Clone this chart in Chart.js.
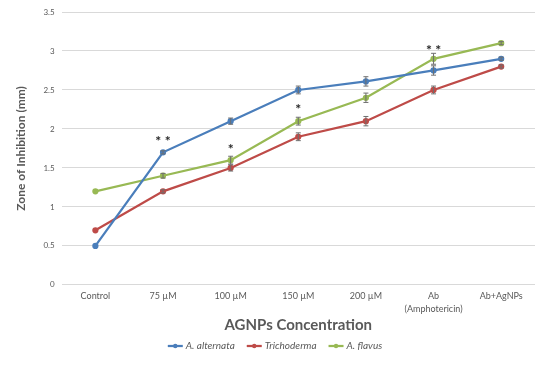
<!DOCTYPE html>
<html>
<head>
<meta charset="utf-8">
<script src="https://cdn.jsdelivr.net/npm/chart.js@4"></script>
<style>
  html, body { margin: 0; padding: 0; background: #fff; }
  #wrap { width: 550px; height: 365px; }
</style>
</head>
<body>
<div id="wrap"><canvas id="chart" width="550" height="365"></canvas></div>
<script>
// Data
const categories = ['Control', '75 µM', '100 µM', '150 µM', '200 µM', ['Ab', '(Amphotericin)'], 'Ab+AgNPs'];

const alternataValues = [0.5, 1.7, 2.1, 2.5, 2.61, 2.75, 2.9];
const trichodermaValues = [0.7, 1.2, 1.5, 1.9, 2.1, 2.5, 2.8];
const flavusValues = [1.2, 1.4, 1.6, 2.1, 2.4, 2.9, 3.1];

const alternataErrors = [0, 0.02, 0.04, 0.05, 0.06, 0.06, 0.02];
const trichodermaErrors = [0, 0.02, 0.04, 0.05, 0.06, 0.05, 0.02];
const flavusErrors = [0, 0.03, 0.05, 0.05, 0.06, 0.07, 0.02];

// significance marks above the lines
const starTexts = ['', '**', '*', '*', '', '**', ''];
const starLevels = [null, 1.88, 1.78, 2.29, null, 3.04, null];

const yTicks = [0, 0.5, 1, 1.5, 2, 2.5, 3, 3.5];

const colors = {
    blue: '#4a7ebb',
    red: '#be4b48',
    green: '#98b954',
    grid: '#d9d9d9',
    text: '#595959',
    errBar: '#6f6f6f'
};

const FONT = 'Lato, "Liberation Sans", sans-serif';

function makeSeries(label, values, errors, color) {
    return {
        label: label,
        data: values,
        errors: errors,
        borderColor: color,
        backgroundColor: color,
        borderWidth: 2.25,
        pointRadius: 2,
        pointHoverRadius: 3,
        pointBackgroundColor: color,
        pointBorderColor: color,
        tension: 0
    };
}

// Error bars drawn from each dataset's errors array
const errorBarPlugin = {
    id: 'errorBars',
    afterDatasetsDraw(chart) {
        const ctx = chart.ctx;
        const yScale = chart.scales.y;
        ctx.save();
        ctx.strokeStyle = colors.errBar;
        ctx.lineWidth = 1;
        chart.data.datasets.forEach((ds, i) => {
            const meta = chart.getDatasetMeta(i);
            meta.data.forEach((pt, j) => {
                const err = ds.errors[j];
                if (!err) return;
                const top = yScale.getPixelForValue(ds.data[j] + err);
                const bot = yScale.getPixelForValue(ds.data[j] - err);
                const x = pt.x;
                ctx.beginPath();
                ctx.moveTo(x, top); ctx.lineTo(x, bot);
                ctx.moveTo(x - 2.5, top); ctx.lineTo(x + 2.5, top);
                ctx.moveTo(x - 2.5, bot); ctx.lineTo(x + 2.5, bot);
                ctx.stroke();
            });
        });
        ctx.restore();
    }
};

// Asterisks placed at category / value positions
const starPlugin = {
    id: 'stars',
    afterDatasetsDraw(chart) {
        const ctx = chart.ctx;
        const xScale = chart.scales.x;
        const yScale = chart.scales.y;
        ctx.save();
        ctx.fillStyle = '#262626';
        ctx.font = 'bold 14px ' + FONT;
        ctx.textAlign = 'center';
        ctx.textBaseline = 'middle';
        starTexts.forEach((txt, i) => {
            if (!txt) return;
            const x = xScale.getPixelForValue(i);
            const y = yScale.getPixelForValue(starLevels[i]);
            ctx.fillText(txt.split('').join(' '), x, y + 3);
        });
        ctx.restore();
    }
};

// Legend: short line with a dot, italic label, centred on the canvas
const legendPlugin = {
    id: 'lineLegend',
    afterDraw(chart) {
        const ctx = chart.ctx;
        const y = 346;
        ctx.save();
        ctx.font = 'italic 10px ' + FONT;
        ctx.textBaseline = 'middle';
        const items = chart.data.datasets.map(ds => ({
            label: ds.label,
            color: ds.borderColor,
            w: ctx.measureText(ds.label).width
        }));
        const sym = 15, gapText = 3, gapItem = 12;
        let total = 0;
        items.forEach((it, k) => {
            total += sym + gapText + it.w + (k < items.length - 1 ? gapItem : 0);
        });
        let x = chart.width / 2 - total / 2;
        items.forEach(it => {
            ctx.strokeStyle = it.color;
            ctx.fillStyle = it.color;
            ctx.lineWidth = 2.25;
            ctx.beginPath();
            ctx.moveTo(x, y); ctx.lineTo(x + sym, y);
            ctx.stroke();
            ctx.beginPath();
            ctx.arc(x + sym / 2, y, 2.2, 0, Math.PI * 2);
            ctx.fill();
            ctx.fillStyle = colors.text;
            ctx.fillText(it.label, x + sym + gapText, y);
            x += sym + gapText + it.w + gapItem;
        });
        ctx.restore();
    }
};

const ctx = document.getElementById('chart').getContext('2d');
new Chart(ctx, {
    type: 'line',
    data: {
        labels: categories,
        datasets: [
            makeSeries('A. alternata', alternataValues, alternataErrors, colors.blue),
            makeSeries('Trichoderma', trichodermaValues, trichodermaErrors, colors.red),
            makeSeries('A. flavus', flavusValues, flavusErrors, colors.green)
        ]
    },
    options: {
        responsive: false,
        animation: false,
        layout: {
            padding: { left: 14, right: 15, top: 12, bottom: 31 }
        },
        plugins: {
            legend: { display: false },
            tooltip: { enabled: false }
        },
        scales: {
            x: {
                offset: true,
                grid: { display: false, drawTicks: false },
                border: { display: false },
                ticks: {
                    color: colors.text,
                    font: { family: FONT, size: 9, lineHeight: 1.45 },
                    padding: 5,
                    maxRotation: 0,
                    autoSkip: false
                },
                title: {
                    display: true,
                    text: 'AGNPs Concentration',
                    color: colors.text,
                    font: { family: FONT, size: 15, weight: 'bold' },
                    padding: { top: -5, bottom: 0 }
                }
            },
            y: {
                min: 0,
                max: 3.5,
                afterBuildTicks(axis) {
                    axis.ticks = yTicks.map(v => ({ value: v }));
                },
                grid: { color: colors.grid, lineWidth: 1, drawTicks: false },
                border: { display: false },
                ticks: {
                    color: colors.text,
                    font: { family: FONT, size: 8 },
                    padding: 7,
                    callback: v => String(v)
                },
                title: {
                    display: true,
                    text: 'Zone of Inhibition (mm)',
                    color: colors.text,
                    font: { family: FONT, size: 12, weight: 'bold' },
                    padding: { top: 0, bottom: 8 }
                }
            }
        }
    },
    plugins: [errorBarPlugin, starPlugin, legendPlugin]
});
</script>
</body>
</html>
